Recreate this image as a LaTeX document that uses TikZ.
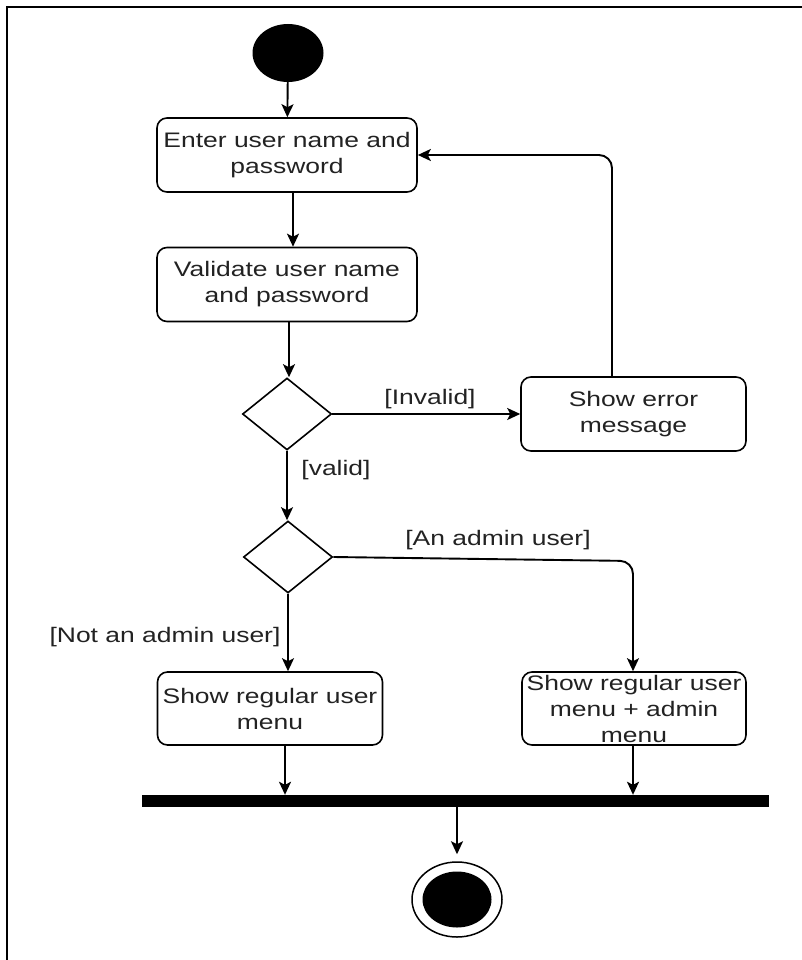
\documentclass[tikz,border=0pt]{standalone}
\usepackage{fontspec}
\setmainfont{Liberation Sans}[FakeStretch=1.26]
\usetikzlibrary{shapes.geometric,arrows.meta}
\definecolor{ink}{HTML}{222222}

\begin{document}
\begin{tikzpicture}[x=1pt,y=-1pt,
  txt/.style={font=\fontsize{21}{26}\selectfont, text=ink, inner sep=0, align=center},
  act/.style={txt, draw=black, rounded corners=10, line width=1.6, minimum height=74},
  choice/.style={diamond, draw=black, line width=1.6, minimum width=89, minimum height=72, inner sep=0},
  flow/.style={line width=1.9, -{Stealth[length=13pt,width=12pt,inset=3pt]}},
  guard/.style={txt}
]
\useasboundingbox (0,0) rectangle (801,960);

% page frame (only its top and left edges fall inside the page)
\draw[line width=2] (810,7) -- (7,7) -- (7,970);

% initial node
\node[ellipse, fill=black, minimum width=71, minimum height=58, inner sep=0] (start) at (288,53) {};

% actions
\node[act, minimum width=260] (enter) at (287,155) {Enter user name and\\password};
\node[act, minimum width=260] (valid) at (287,284.5) {Validate user name\\and password};
\node[act, minimum width=225] (err) at (633.5,414) {Show error\\message};
\node[choice] (d1) at (287,414) {};
\node[choice] (d2) at (288,557) {};
\node[act, minimum width=225, minimum height=73] (reg) at (270,708.5) {Show regular user\\menu};
\node[act, minimum width=224, minimum height=73] (adm) at (634,708.5) {Show regular user\\menu + admin\\menu};

% join bar and final node
\node[rectangle, fill=black, minimum width=627, minimum height=12, inner sep=0] (bar) at (455.5,801) {};
\node[ellipse, draw=black, line width=1.5, minimum width=90, minimum height=75, inner sep=0] (fin) at (457,899.5) {};
\node[ellipse, fill=black, minimum width=69, minimum height=56, inner sep=0] (fincore) at (fin.center) {};

% control flow
\draw[flow] (start) -- (enter);
\draw[flow] ([xshift=6]enter.south) -- ([xshift=6]valid.north);
\draw[flow] ([xshift=2]valid.south) -- ([xshift=2]valid.south |- d1.north);
\draw[flow] (d1.east) -- (err.west);
\draw[flow, rounded corners=13] ([xshift=-21.5]err.north) -- ([xshift=-21.5]err.north |- enter.east) -- (enter.east);
\draw[flow] (d1.south) -- (d1.south |- d2.north);
\draw[flow] (d2.south) -- (d2.south |- reg.north);
\draw[flow, rounded corners=13] (d2.east) -- (633,561) -- (adm.north -| 633,0);
\draw[flow] ([xshift=15]reg.south) -- ([xshift=15]reg.south |- bar.north);
\draw[flow] ([xshift=-1]adm.south) -- ([xshift=-1]adm.south |- bar.north);
\draw[flow, shorten >=7] (bar.south -| fin.north) -- (fin.north);

% guards
\node[guard] (gInvalid) at (430,399) {[Invalid]};
\node[guard] (gValid) at (336,470) {[valid]};
\node[guard] (gAdmin) at (498,540) {[An admin user]};
\node[guard] (gNotAdmin) at (165,637) {[Not an admin user]};
\end{tikzpicture}
\end{document}
